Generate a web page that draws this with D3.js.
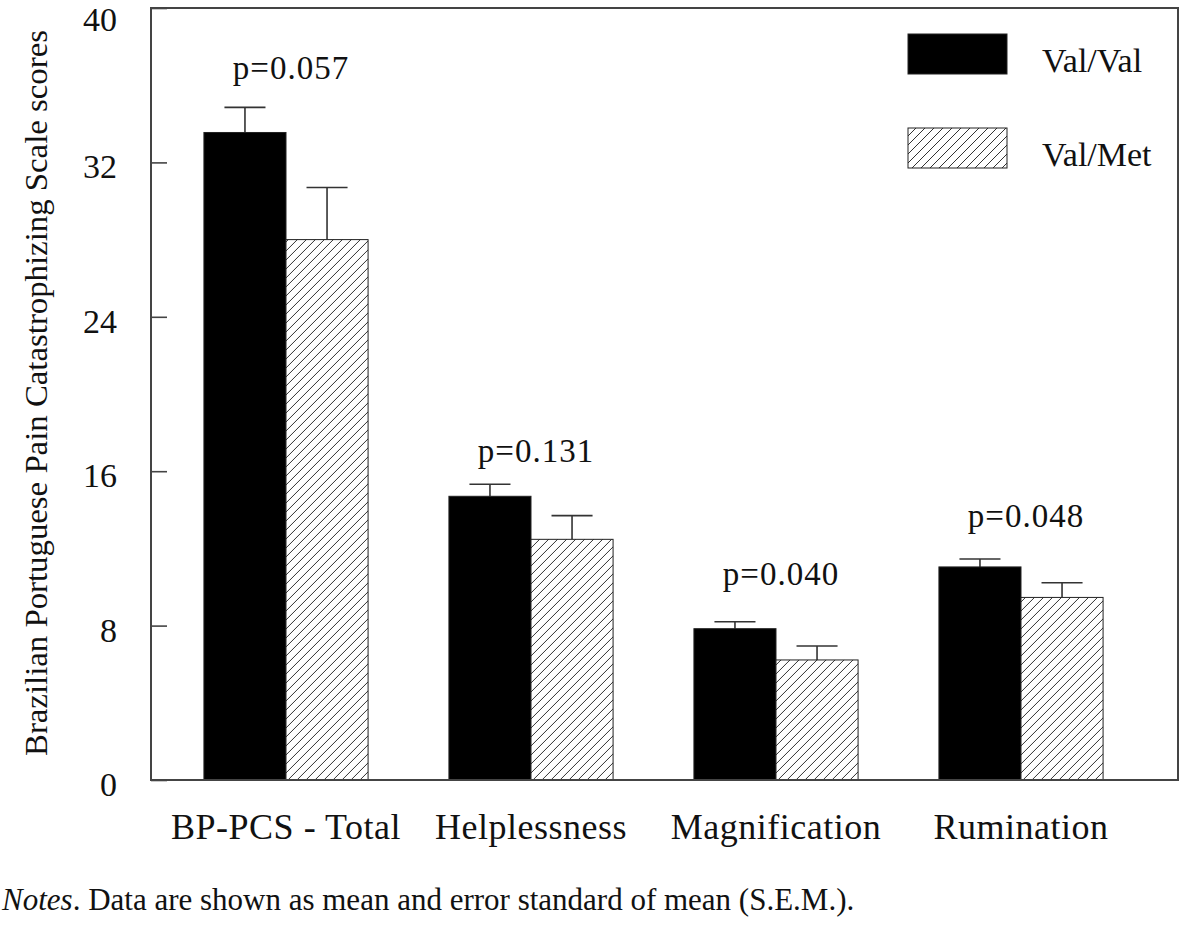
<!DOCTYPE html>
<html>
<head>
<meta charset="utf-8">
<script src="https://cdn.jsdelivr.net/npm/d3@7"></script>
<style>
  html, body { margin: 0; padding: 0; background: #fff; }
  svg { display: block; }
  text { font-family: "Liberation Serif", "Times New Roman", serif; fill: #111; }
</style>
</head>
<body>
<svg id="chart" width="1182" height="939"></svg>
<script>
// ---- data ----
const categories = ["BP-PCS - Total", "Helplessness", "Magnification", "Rumination"];
const seriesNames = ["Val/Val", "Val/Met"];
const valVal = [33.55, 14.7, 7.84, 11.04];
const valValSem = [1.3, 0.62, 0.36, 0.41];
const valMet = [28.0, 12.47, 6.22, 9.46];
const valMetSem = [2.7, 1.23, 0.72, 0.76];
const pValues = ["p=0.057", "p=0.131", "p=0.040", "p=0.048"];
const pLabelHeights = [36.3, 16.5, 10.1, 13.1];
const yTicks = [0, 8, 16, 24, 32, 40];
const noteItalic = "Notes";
const noteText = ". Data are shown as mean and error standard of mean (S.E.M.).";

// ---- layout ----
const svg = d3.select("#chart");
const frame = { left: 151, right: 1178, top: 8, bottom: 780 };

const y = d3.scaleLinear().domain([0, 40]).range([frame.bottom, frame.top]);
const x0 = d3.scaleBand().domain(categories).range([163.5, 1143.5]).paddingInner(0.33).paddingOuter(0.165);
const x1 = d3.scaleBand().domain(seriesNames).range([0, x0.bandwidth()]);

// hatch pattern
const defs = svg.append("defs");
const pat = defs.append("pattern")
  .attr("id", "hatch").attr("patternUnits", "userSpaceOnUse")
  .attr("width", 9).attr("height", 9);
pat.append("rect").attr("width", 9).attr("height", 9).attr("fill", "#fff");
pat.append("path")
  .attr("d", "M-2,2 L2,-2 M0,9 L9,0 M7,11 L11,7")
  .attr("stroke", "#333").attr("stroke-width", 1);

const fills = { "Val/Val": "#000", "Val/Met": "url(#hatch)" };

// rows
const rows = categories.map((c, i) => ({
  cat: c,
  bars: [
    { s: "Val/Val", v: valVal[i], e: valValSem[i] },
    { s: "Val/Met", v: valMet[i], e: valMetSem[i] }
  ]
}));

const g = svg.append("g");
const grp = g.selectAll("g.grp").data(rows).join("g")
  .attr("class", "grp")
  .attr("transform", d => `translate(${x0(d.cat)},0)`);

// error bars (upward only)
grp.selectAll("g.err").data(d => d.bars).join("g").attr("class", "err").each(function(d) {
  const cx = x1(d.s) + x1.bandwidth() / 2;
  const sel = d3.select(this);
  sel.append("line").attr("x1", cx).attr("x2", cx)
    .attr("y1", y(d.v)).attr("y2", y(d.v + d.e))
    .attr("stroke", "#333").attr("stroke-width", 1.6);
  sel.append("line").attr("x1", cx - x1.bandwidth() / 4).attr("x2", cx + x1.bandwidth() / 4)
    .attr("y1", y(d.v + d.e)).attr("y2", y(d.v + d.e))
    .attr("stroke", "#333").attr("stroke-width", 1.6);
});

grp.selectAll("rect.bar").data(d => d.bars).join("rect")
  .attr("class", "bar")
  .attr("x", d => x1(d.s))
  .attr("y", d => y(d.v))
  .attr("width", x1.bandwidth())
  .attr("height", d => y(0) - y(d.v))
  .attr("fill", d => fills[d.s])
  .attr("stroke", "#222").attr("stroke-width", 1);

// p-values
g.selectAll("text.pval").data(rows).join("text")
  .attr("class", "pval")
  .attr("x", (d, i) => x0(d.cat) + x0.bandwidth() / 2 + 5)
  .attr("y", (d, i) => y(pLabelHeights[i]))
  .attr("text-anchor", "middle")
  .attr("font-size", 33)
  .attr("letter-spacing", 1)
  .text((d, i) => pValues[i]);

// frame
svg.append("rect")
  .attr("x", frame.left).attr("y", frame.top)
  .attr("width", frame.right - frame.left).attr("height", frame.bottom - frame.top)
  .attr("fill", "none").attr("stroke", "#444").attr("stroke-width", 2);

// y axis (ticks inward)
const yAxis = d3.axisRight(y).tickValues(yTicks).tickSize(16).tickFormat("");
const ya = svg.append("g").attr("transform", `translate(${frame.left},0)`).call(yAxis);
ya.select(".domain").remove();
ya.selectAll(".tick line").attr("stroke", "#444").attr("stroke-width", 1.6);

svg.append("g").selectAll("text").data(yTicks).join("text")
  .attr("x", 117).attr("y", d => Math.max(y(d) + 16, 31))
  .attr("text-anchor", "end").attr("font-size", 34)
  .text(d => d);

// x category labels
svg.append("g").selectAll("text").data(categories).join("text")
  .attr("x", d => x0(d) + x0.bandwidth() / 2)
  .attr("y", 839)
  .attr("text-anchor", "middle").attr("font-size", 36)
  .attr("letter-spacing", 0.5)
  .text(d => d);

// y axis title
svg.append("text")
  .attr("transform", "translate(47,393) rotate(-90)")
  .attr("text-anchor", "middle").attr("font-size", 32)
  .attr("textLength", 726).attr("lengthAdjust", "spacingAndGlyphs")
  .text("Brazilian Portuguese Pain Catastrophizing Scale scores");

// legend
const leg = svg.append("g");
const legY = [34, 128];
seriesNames.forEach((s, i) => {
  leg.append("rect").attr("x", 908).attr("y", legY[i]).attr("width", 99).attr("height", 40)
    .attr("fill", fills[s]).attr("stroke", "#222").attr("stroke-width", 1);
  leg.append("text").attr("x", 1042).attr("y", legY[i] + 38)
    .attr("font-size", 34).text(s);
});

// note
const note = svg.append("text").attr("x", 2).attr("y", 910).attr("font-size", 31);
note.append("tspan").attr("font-style", "italic").text(noteItalic);
note.append("tspan").text(noteText);
</script>
</body>
</html>
